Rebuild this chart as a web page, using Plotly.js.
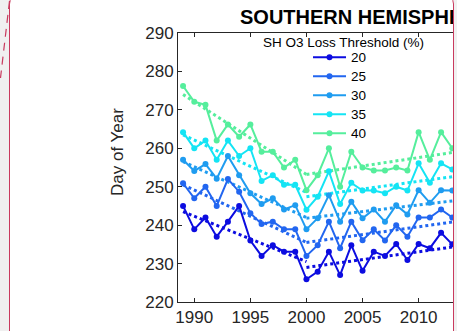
<!DOCTYPE html>
<html><head><meta charset="utf-8">
<script src="https://cdn.plot.ly/plotly-3.0.1.min.js"></script>
<style>
html,body{margin:0;padding:0;width:457px;height:331px;overflow:hidden;background:#fff;}
#chart{position:absolute;left:0;top:0;width:457px;height:331px;}
#frame{position:absolute;left:9px;top:-6px;width:442.5px;height:360px;border:1.5px solid #c93a5e;border-radius:10px;box-shadow:0 0 0 60px #f0f0f0;pointer-events:none;z-index:10;}
#dash{position:absolute;left:0;top:0;z-index:11;pointer-events:none;}
</style></head>
<body>
<div id="chart"></div>
<div id="frame"></div>
<svg id="dash" width="20" height="90"><line x1="9.5" y1="1" x2="0.5" y2="78" stroke="#c93a5e" stroke-width="1.2" stroke-dasharray="8,6"/></svg>
<script>
const years = [1989,1990,1991,1992,1993,1994,1995,1996,1997,1998,1999,2000,2001,2002,2003,2004,2005,2006,2007,2008,2009,2010,2011,2012,2013];
const loss20 = [245.0,238.9,242.0,237.0,240.9,245.0,236.0,232.0,234.8,233.1,233.1,225.9,227.9,233.1,227.0,234.8,228.1,233.1,232.0,235.1,230.9,235.1,234.0,238.0,235.0];
const loss25 = [250.9,247.0,250.0,245.0,252.0,248.7,243.1,240.3,240.9,238.9,238.9,232.0,234.8,240.9,234.0,240.9,236.1,238.9,236.0,240.0,237.0,242.0,242.0,244.1,242.0];
const loss30 = [257.0,254.1,255.9,252.1,258.0,253.0,248.3,245.5,247.0,244.1,245.2,238.9,241.8,247.8,240.9,246.1,241.8,244.1,240.9,245.2,242.8,249.1,245.8,249.1,249.0];
const loss35 = [264.2,260.0,262.0,257.0,262.0,258.0,260.0,251.5,253.0,250.5,250.5,244.0,247.4,254.0,245.5,251.0,249.0,249.0,248.3,250.0,249.0,256.1,251.0,256.1,254.5];
const loss40 = [276.2,272.1,271.3,262.0,266.2,263.0,266.2,259.1,259.1,255.0,257.0,249.1,253.0,260.0,250.0,259.1,255.0,254.2,254.2,255.0,254.2,264.2,257.0,264.2,260.0];

// dotted trend lines: 1989-2000 and 2000-2013
const trendYearsA = [1989, 2000];
const trendYearsB = [2000, 2013];
const trend20A = [243.5, 230.5], trend20B = [229.0, 234.3];
const trend25A = [250.5, 235.5], trend25B = [235.5, 240.8];
const trend30A = [256.5, 242.0], trend30B = [241.8, 246.3];
const trend35A = [263.5, 248.5], trend35B = [247.4, 252.6];
const trend40A = [274.0, 253.2], trend40B = [253.2, 258.9];

const seriesNames = ['20','25','30','35','40'];
const legendTitle = 'SH O3 Loss Threshold (%)';
const chartTitle = 'SOUTHERN HEMISPHERE';
const yLabel = 'Day of Year';
const xTicks = [1990,1995,2000,2005,2010,2015];
const yTicks = [220,230,240,250,260,270,280,290];

const colors = ['#0c0ce0','#2266f0','#1f9cf0','#14e4f4','#55ee9c'];
const seriesVals = [loss20, loss25, loss30, loss35, loss40];
const trendsA = [trend20A, trend25A, trend30A, trend35A, trend40A];
const trendsB = [trend20B, trend25B, trend30B, trend35B, trend40B];

const traces = [];
for (let i = 0; i < 5; i++) {
  traces.push({x: trendYearsA, y: trendsA[i], mode:'lines', line:{color:colors[i], width:3, dash:'dot'}, showlegend:false, hoverinfo:'skip'});
  traces.push({x: trendYearsB, y: trendsB[i], mode:'lines', line:{color:colors[i], width:3, dash:'dot'}, showlegend:false, hoverinfo:'skip'});
}
for (let i = 0; i < 5; i++) {
  traces.push({x: years, y: seriesVals[i], name: '<span style="font-size:13.5px">' + seriesNames[i] + '</span>', mode:'lines+markers',
    line:{color:colors[i], width:2}, marker:{color:colors[i], size:6, symbol:'circle'}});
}

const FONT = 'Liberation Sans, Arial, sans-serif';
const axisCommon = {ticks:'inside', ticklen:4, tickwidth:1, tickcolor:'#262626', showline:true, linecolor:'#262626', linewidth:1,
  mirror:'ticks', showgrid:false, zeroline:false, tickfont:{family:FONT, size:17, color:'#262626'}};

const layout = {
  width:457, height:331,
  margin:{l:178, r:0, t:33, b:29, pad:0, autoexpand:false},
  paper_bgcolor:'#ffffff', plot_bgcolor:'#ffffff',
  font:{family:FONT, size:17, color:'#262626'},
  showlegend:true,
  xaxis: Object.assign({range:[1988.55, 2013.42], tickmode:'array', tickvals:xTicks}, axisCommon),
  yaxis: Object.assign({range:[220, 290], tickmode:'array', tickvals:yTicks}, axisCommon),
  legend:{x:0.466, y:0.9636, xanchor:'left', yanchor:'top', bgcolor:'rgba(0,0,0,0)', borderwidth:0,
    font:{family:FONT, size:12, color:'#000'}, itemwidth:33, tracegroupgap:0},
  annotations:[
    {text:'<b>' + chartTitle + '</b>', xref:'paper', yref:'paper', x:0.216, y:1.0595, xanchor:'left', yanchor:'middle',
     showarrow:false, font:{family:FONT, size:20, color:'#000'}},
    {text:legendTitle, xref:'paper', yref:'paper', x:0.594, y:0.964, xanchor:'center', yanchor:'middle',
     showarrow:false, font:{family:FONT, size:13.5, color:'#000'}},
    {text:yLabel, xref:'paper', yref:'paper', x:-0.2168, y:0.5558, xanchor:'center', yanchor:'middle', textangle:-90,
     showarrow:false, font:{family:FONT, size:17, color:'#262626'}}
  ]
};

Plotly.newPlot('chart', traces, layout, {displayModeBar:false, staticPlot:true});
</script>
</body></html>
